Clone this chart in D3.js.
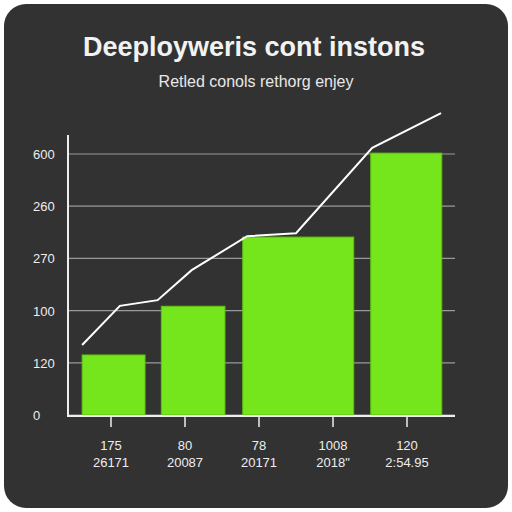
<!DOCTYPE html>
<html><head><meta charset="utf-8">
<script src="https://cdn.jsdelivr.net/npm/d3@7"></script>
<style>body{margin:0;background:#fff}svg{display:block}</style>
</head><body>
<script>
// chart values
const yTicks = [0, 120, 240, 360, 480, 600];
const yTickLabels = ["0", "120", "100", "270", "260", "600"];
const xTopLabels = ["175", "80", "78", "1008", "120"];
const xBottomLabels = ["26171", "20087", "20171", "2018\"", "2:54.95"];
const barStart = [0.11, 1.18, 2.28, 4.01];
const barEnd = [0.96, 2.04, 3.78, 4.97];
const barValues = [138, 250, 409, 602];
const lineX = [0.11, 0.62, 1.13, 1.59, 2.34, 3.0, 4.03, 4.96];
const lineValues = [161, 251, 264, 333, 411, 418, 614, 694];

const font = "'Liberation Sans', Arial, sans-serif";
const svg = d3.select("body").append("svg").attr("width", 512).attr("height", 512);
svg.append("rect").attr("x", 4).attr("y", 4).attr("width", 504).attr("height", 504)
  .attr("rx", 22).attr("fill", "#323232");

svg.append("text").attr("x", 254).attr("y", 56).attr("text-anchor", "middle")
  .attr("font-family", font).attr("font-weight", "bold").attr("font-size", 27)
  .attr("fill", "#f2f2f2").text("Deeployweris cont instons");
svg.append("text").attr("x", 256).attr("y", 87).attr("text-anchor", "middle")
  .attr("font-family", font).attr("font-size", 16)
  .attr("fill", "#e8e8e8").text("Retled conols rethorg enjey");

const x = d3.scaleLinear().domain([0, 5]).range([74, 444]);
const y = d3.scaleLinear().domain([0, 600]).range([415, 154]);

// grid
svg.selectAll(".grid").data(yTicks).enter().append("line")
  .attr("x1", 68).attr("x2", 455).attr("y1", d => y(d)).attr("y2", d => y(d))
  .attr("stroke", "#9a9a9a").attr("stroke-width", 1.2);
svg.selectAll(".ylab").data(yTicks).enter().append("text")
  .attr("x", 33).attr("y", d => y(d) + 5).attr("font-family", font)
  .attr("font-size", 13).attr("fill", "#eee").text((d, i) => yTickLabels[i]);

// bars
svg.selectAll(".bar").data(barValues).enter().append("rect")
  .attr("x", (d, i) => x(barStart[i])).attr("width", (d, i) => x(barEnd[i]) - x(barStart[i]))
  .attr("y", d => y(d)).attr("height", d => y(0) - y(d))
  .attr("fill", "#76e61c").attr("stroke", "#5fc010").attr("stroke-width", 1);

// axes
svg.append("line").attr("x1", 68).attr("x2", 68).attr("y1", 135).attr("y2", 416)
  .attr("stroke", "#eee").attr("stroke-width", 2);
svg.append("line").attr("x1", 67).attr("x2", 455).attr("y1", 416).attr("y2", 416)
  .attr("stroke", "#eee").attr("stroke-width", 2);
const cats = d3.range(5);
svg.selectAll(".tick").data(cats).enter().append("line")
  .attr("x1", d => x(d + 0.5)).attr("x2", d => x(d + 0.5)).attr("y1", 416).attr("y2", 427)
  .attr("stroke", "#eee").attr("stroke-width", 1.5);
svg.selectAll(".xl1").data(cats).enter().append("text")
  .attr("x", d => x(d + 0.5)).attr("y", 450).attr("text-anchor", "middle")
  .attr("font-family", font).attr("font-size", 13).attr("fill", "#eee")
  .text(d => xTopLabels[d]);
svg.selectAll(".xl2").data(cats).enter().append("text")
  .attr("x", d => x(d + 0.5)).attr("y", 467).attr("text-anchor", "middle")
  .attr("font-family", font).attr("font-size", 13).attr("fill", "#eee")
  .text(d => xBottomLabels[d]);

// line
svg.append("path").datum(lineValues)
  .attr("d", d3.line().x((d, i) => x(lineX[i])).y(d => y(d)))
  .attr("fill", "none").attr("stroke", "#fff").attr("stroke-width", 2);
</script>
</body></html>
